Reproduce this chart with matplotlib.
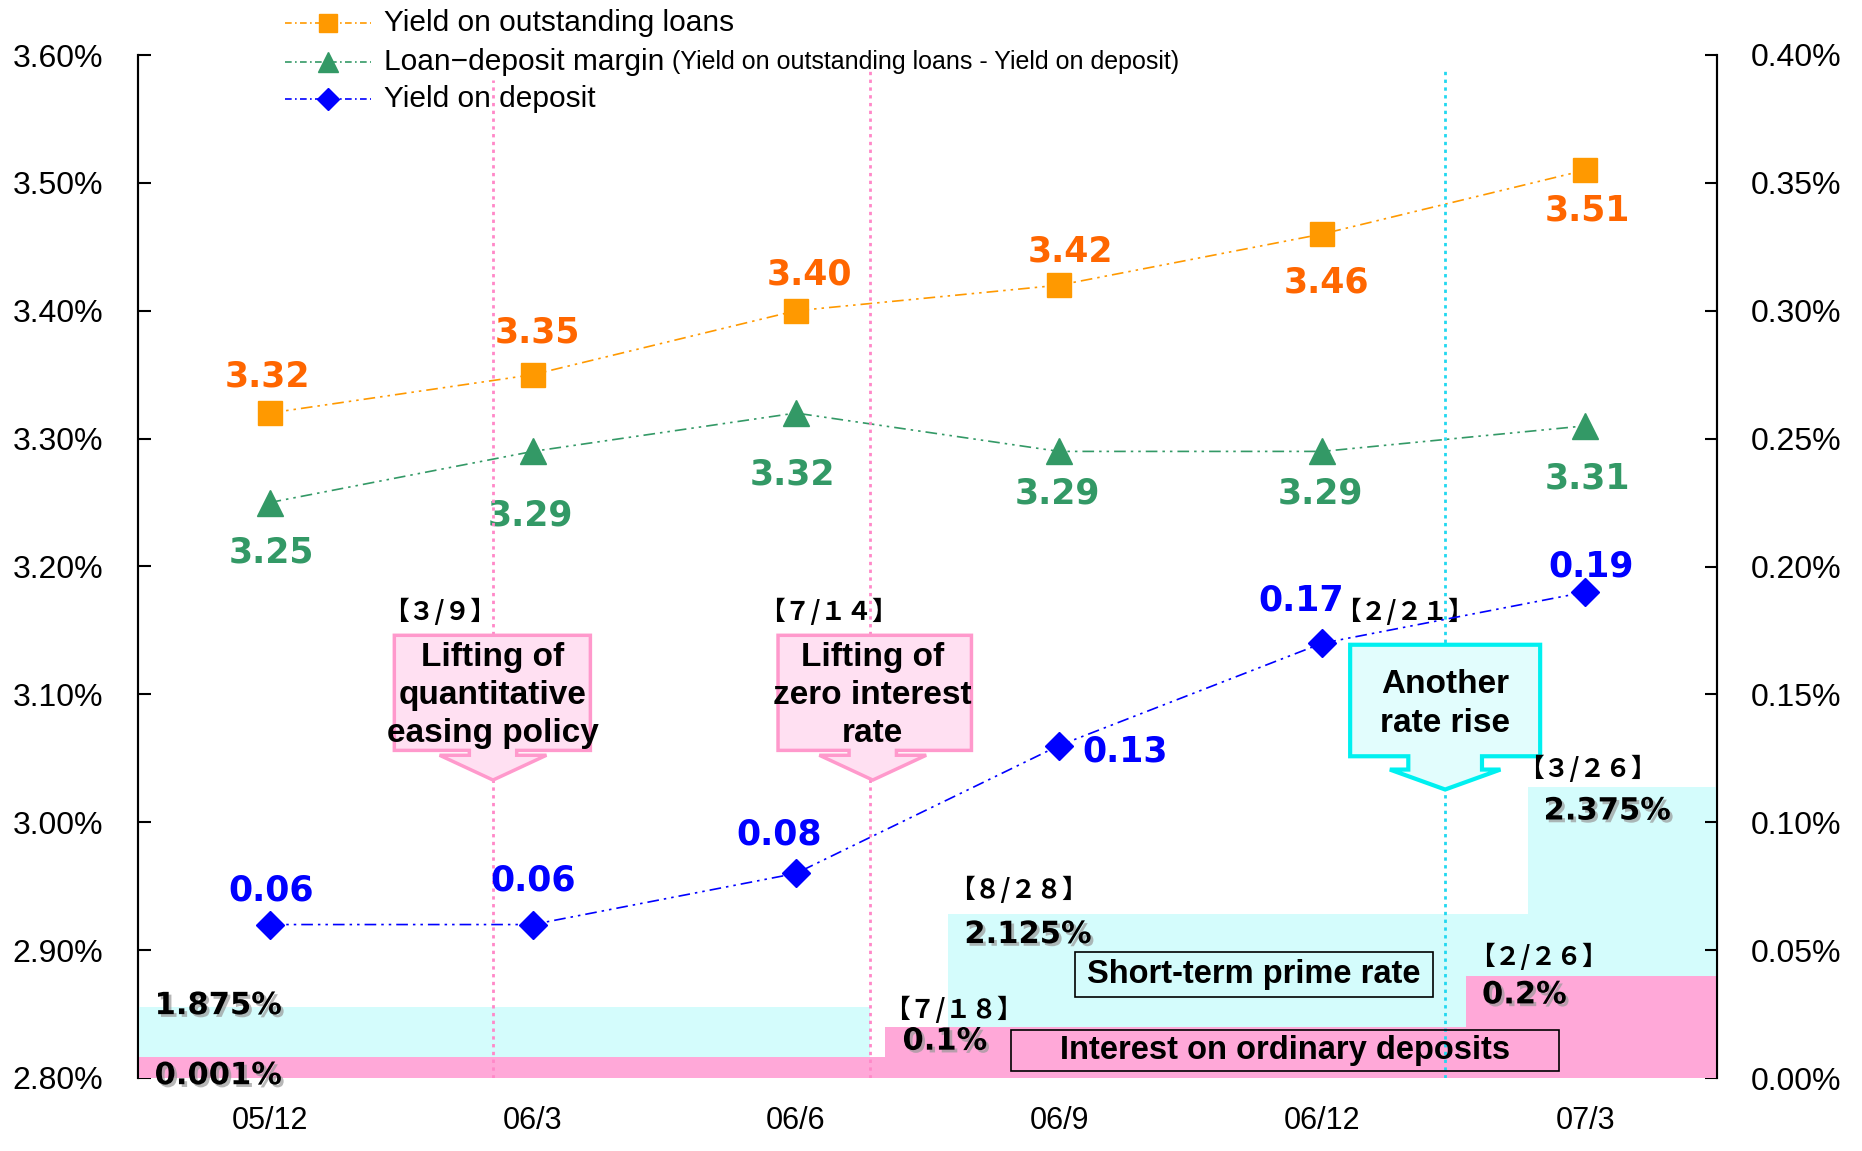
import matplotlib
matplotlib.use('Agg')
import matplotlib.pyplot as plt
import matplotlib.patheffects as pe
from matplotlib.patches import Polygon, Rectangle
from matplotlib.lines import Line2D
from matplotlib.ticker import FuncFormatter, MultipleLocator

periods = ['05/12', '06/3', '06/6', '06/9', '06/12', '07/3']
loan_yield = [3.32, 3.35, 3.40, 3.42, 3.46, 3.51]
margin = [3.25, 3.29, 3.32, 3.29, 3.29, 3.31]
deposit_yield = [0.06, 0.06, 0.08, 0.13, 0.17, 0.19]

# policy rate bands along the bottom (step edges in period units, heights on the right axis)
prime_edges = [[-0.5, 2.283], [2.577, 4.783, 5.5]]
prime_height = [[0.0278], [0.064, 0.1137]]
prime_text = ['1.875%', '2.125%', '2.375%']
ordinary_edges = [-0.5, 2.337, 4.548, 5.5]
ordinary_height = [0.0084, 0.020, 0.040]
ordinary_text = ['0.001%', '0.1%', '0.2%']

event_x = [0.849, 2.283, 4.467]
event_dates = ['【３/９】', '【７/１４】', '【２/２１】']
event_text = ['Lifting of\nquantitative\neasing policy', 'Lifting of\nzero interest\nrate',
              'Another\nrate rise']

SANS = ['Liberation Sans', 'DejaVu Sans']
CJK = ['Noto Sans CJK JP', 'DejaVu Sans']

ORANGE = '#FF9900'
GREEN = '#339966'
BLUE = '#0000FF'
PINK = '#FF88C8'

fig = plt.figure(figsize=(18.62, 11.51), dpi=100)
ax = fig.add_axes([138 / 1862, 1 - 1078 / 1151, (1717 - 138) / 1862, (1078 - 55) / 1151])
ax2 = ax.twinx()

x = list(range(len(periods)))
ax.set_xlim(-0.5, 5.5)
ax.set_ylim(2.80, 3.60)
ax2.set_ylim(0.0, 0.40)
ax.yaxis.set_major_locator(MultipleLocator(0.10))
ax2.yaxis.set_major_locator(MultipleLocator(0.05))
pct = FuncFormatter(lambda v, p: '%.2f%%' % v)
ax.yaxis.set_major_formatter(pct)
ax2.yaxis.set_major_formatter(pct)
ax.set_xticks(x)
ax.set_xticklabels(periods)

for a in (ax, ax2):
    for s in ('top', 'bottom'):
        a.spines[s].set_visible(False)
    a.spines['left'].set_linewidth(1.5)
    a.spines['right'].set_linewidth(1.5)
ax.tick_params(axis='y', direction='in', length=9, width=1.5, pad=25)
ax2.tick_params(axis='y', direction='in', length=9, width=1.5, pad=24)
ax.tick_params(axis='x', length=0, pad=20)
for lab in ax.get_yticklabels() + ax2.get_yticklabels():
    lab.set_family(SANS)
    lab.set_fontsize(23)
for lab in ax.get_xticklabels():
    lab.set_family(SANS)
    lab.set_fontsize(22)

# bands: short-term prime rate (cyan) under interest on ordinary deposits (pink)
for edges, hs in zip(prime_edges, prime_height):
    ax2.fill_between(edges, hs + [hs[-1]], 0, step='post', color='#D4FCFC', lw=0, zorder=1)
ax2.fill_between(ordinary_edges, ordinary_height + [ordinary_height[-1]], 0, step='post',
                 color='#FFA8D8', lw=0, zorder=2)

shadow = [pe.withSimplePatchShadow(offset=(2, -2), shadow_rgbFace='0.6', alpha=0.7)]
prime_pos = [(-0.437, 0.0283), (2.64, 0.0561), (4.841, 0.1044)]
for (px, py), t in zip(prime_pos, prime_text):
    ax2.text(px, py, t, fontsize=22, fontweight='bold', ha='left', va='center',
             path_effects=shadow, zorder=6)
ordinary_pos = [(-0.437, 0.0009), (2.405, 0.0144), (4.607, 0.0325)]
for (px, py), t in zip(ordinary_pos, ordinary_text):
    ax2.text(px, py, t, fontsize=22, fontweight='bold', ha='left', va='center',
             path_effects=shadow, zorder=6)

for (px, py), t in zip([(2.599, 0.0265), (2.847, 0.0733), (4.823, 0.0473), (5.008, 0.1206)],
                       ['【７/１８】', '【８/２８】', '【２/２６】', '【３/２６】']):
    ax2.text(px, py, t, fontsize=18.5, fontweight='bold', family=CJK,
             ha='center', va='center', zorder=6)

ax2.add_patch(Rectangle((3.74 - 0.681, 0.0404 - 0.0088), 1.362, 0.0176,
                        fc='none', ec='black', lw=1.2, zorder=5))
ax2.text(3.74, 0.0404, 'Short-term prime rate', fontsize=23.5, fontweight='bold',
         family=SANS, ha='center', va='center', zorder=6)
ax2.add_patch(Rectangle((3.858 - 1.042, 0.0107 - 0.0079), 2.084, 0.0158,
                        fc='none', ec='black', lw=1.2, zorder=5))
ax2.text(3.858, 0.0107, 'Interest on ordinary deposits', fontsize=23.5, fontweight='bold',
         family=SANS, ha='center', va='center', zorder=6)

# event markers
for ex, col, top in zip(event_x, [PINK, PINK, '#22D8F0'], [0.976, 0.984, 0.986]):
    ax2.axvline(ex, ymin=0, ymax=top, color=col, lw=2, ls=(0, (1.2, 1.6)), zorder=4)


def callout(a, xc, x0, x1, ytop, ybot, yhead, ytip, neck, head, face, edge, lw):
    pts = [(x0, ytop), (x1, ytop), (x1, ybot), (xc + neck, ybot), (xc + neck, yhead),
           (xc + head, yhead), (xc, ytip), (xc - head, yhead), (xc - neck, yhead),
           (xc - neck, ybot), (x0, ybot)]
    a.add_patch(Polygon(pts, closed=True, fc=face, ec=edge, lw=lw, zorder=5))


callout(ax2, 0.849, 0.474, 1.219, 0.1731, 0.1281, 0.1262, 0.1165, 0.09, 0.203,
        '#FFE0F2', '#FF99CC', 2.5)
callout(ax2, 2.292, 1.932, 2.667, 0.1731, 0.1281, 0.1262, 0.1165, 0.09, 0.203,
        '#FFE0F2', '#FF99CC', 2.5)
callout(ax2, 4.467, 4.106, 4.828, 0.1694, 0.1258, 0.1206, 0.1128, 0.14, 0.21,
        '#E2FDFD', '#00F0F0', 3)
for tx, ty, t in zip([0.849, 2.292, 4.467], [0.1495, 0.1495, 0.1462], event_text):
    ax2.text(tx, ty, t, fontsize=24, fontweight='bold', family=SANS,
             ha='center', va='center', linespacing=1.3, zorder=6)
for tx, t in zip([0.645, 2.125, 4.313], event_dates):
    ax2.text(tx, 0.1819, t, fontsize=18.5, fontweight='bold', family=CJK,
             ha='center', va='center', zorder=6)

# series
dash = (0, (7, 3, 1.5, 3, 1.5, 3))
ax.plot(x, loan_yield, color=ORANGE, lw=1.2, ls=dash, marker='s', ms=17, zorder=5)
ax.plot(x, margin, color=GREEN, lw=1.2, ls=dash, marker='^', ms=19, zorder=5)
ax2.plot(x, deposit_yield, color=BLUE, lw=1.2, ls=dash, marker='D', ms=14, zorder=7)

loan_off = [(-2, 37), (5, 42), (14, 36), (11, 34), (4, -48), (2, -40)]
margin_off = [(2, -50), (-2, -64), (-3, -61), (-2, -42), (-2, -42), (2, -53)]
deposit_off = [(2, 34), (0, 44), (-17, 39), (66, -6), (-21, 43), (6, 26)]
for xi, v, off in zip(x, loan_yield, loan_off):
    ax.annotate('%.2f' % v, (xi, v), xytext=off, textcoords='offset pixels', color='#FF6600',
                fontsize=25, fontweight='bold', ha='center', va='center', zorder=8)
for xi, v, off in zip(x, margin, margin_off):
    ax.annotate('%.2f' % v, (xi, v), xytext=off, textcoords='offset pixels', color=GREEN,
                fontsize=25, fontweight='bold', ha='center', va='center', zorder=8)
for xi, v, off in zip(x, deposit_yield, deposit_off):
    ax2.annotate('%.2f' % v, (xi, v), xytext=off, textcoords='offset pixels', color=BLUE,
                 fontsize=25, fontweight='bold', ha='center', va='center', zorder=8)

# legend above the plot area
rows = [0.980, 0.946, 0.914]
entries = [(ORANGE, 's', 13, 'Yield on outstanding loans'),
           (GREEN, '^', 15, 'Loan−deposit margin'),
           (BLUE, 'D', 11, 'Yield on deposit')]
labels = []
for y, (col, mk, ms, lab) in zip(rows, entries):
    fig.add_artist(Line2D([0.153, 0.199], [y, y], color=col, lw=1.2, ls=(0, (4, 2, 1, 2)),
                          transform=fig.transFigure))
    fig.add_artist(Line2D([0.176], [y], color=col, marker=mk, ms=ms, lw=0,
                          transform=fig.transFigure))
    labels.append(fig.text(0.206, y, lab, fontsize=21.5, family=SANS, va='center'))

fig.canvas.draw()
bb = labels[1].get_window_extent()
fig.text((bb.x1 + 8) / fig.bbox.width, rows[1], '(Yield on outstanding loans - Yield on deposit)',
         fontsize=18, family=SANS, va='center')

fig.savefig('out.png', dpi=100)
